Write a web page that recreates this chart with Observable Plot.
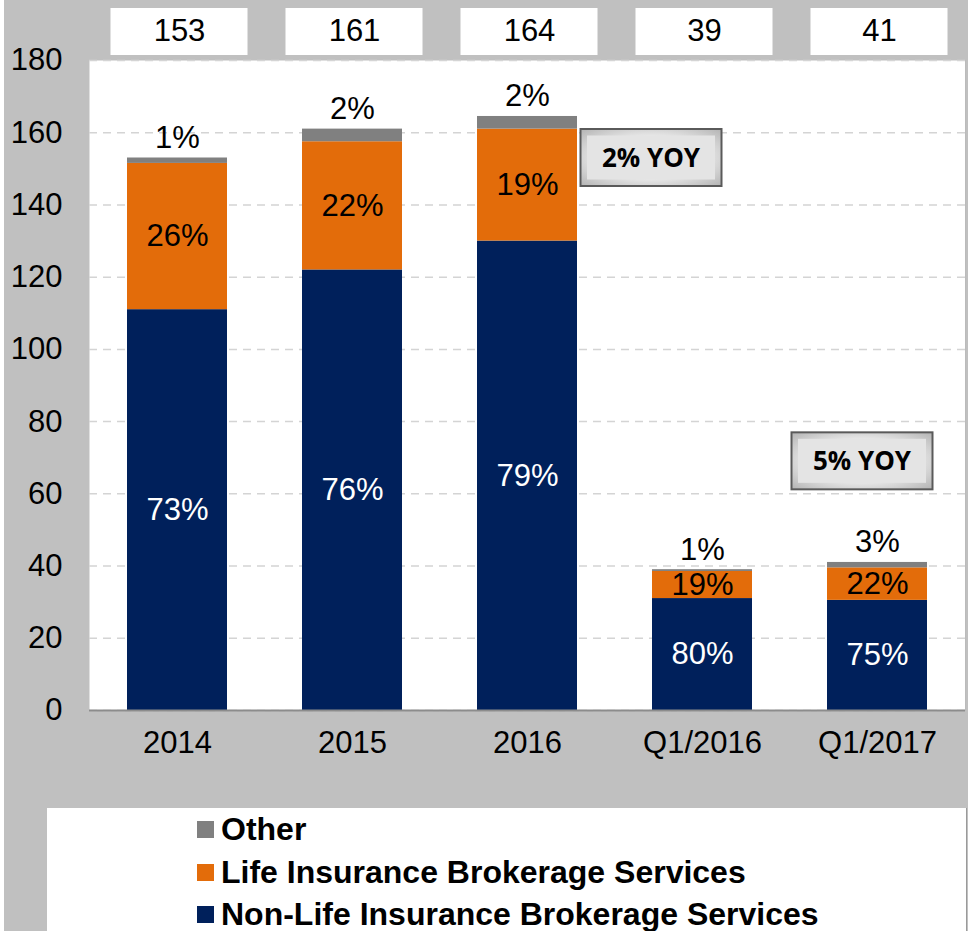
<!DOCTYPE html>
<html><head><meta charset="utf-8">
<script src="https://cdn.jsdelivr.net/npm/d3@7"></script>
<script src="https://cdn.jsdelivr.net/npm/@observablehq/plot@0.6"></script>
<style>
body{margin:0;background:#fff;}
#wrap{position:relative;width:968px;height:931px;background:#c0c0c0;overflow:hidden;font-family:Arial,"Liberation Sans",sans-serif;}
#strip{position:absolute;left:0;top:0;width:4px;height:931px;background:#fff;z-index:2;}
#chart{position:absolute;left:0;top:0;}
#legend{position:absolute;left:47px;top:808px;width:919px;height:123px;background:#fff;border-right:1px solid #9a9a9a;}
.item{position:absolute;left:150px;height:34px;display:flex;align-items:center;font-weight:bold;font-size:32px;color:#000;white-space:nowrap;}
.sw{width:17px;height:17px;margin-right:7px;flex:none;}
</style></head>
<body>
<div id="wrap"><div id="strip"></div><div id="chart"></div><div id="legend"></div></div>
<script>
const categories = ["2014", "2015", "2016", "Q1/2016", "Q1/2017"];
const seriesNames = ["Non-Life Insurance Brokerage Services", "Life Insurance Brokerage Services", "Other"];
const seriesColors = ["#00205b", "#e36c0a", "#808080"];
const nonLife = [111, 122, 130, 31, 30.5];
const life = [40.5, 35.5, 31, 7.5, 9];
const other = [1.5, 3.5, 3.5, 0.5, 1.5];
const totals = [153, 161, 164, 39, 41];
const nonLifePct = ["73%", "76%", "79%", "80%", "75%"];
const lifePct = ["26%", "22%", "19%", "19%", "22%"];
const otherPct = ["1%", "2%", "2%", "1%", "3%"];
const yTicks = [0, 20, 40, 60, 80, 100, 120, 140, 160, 180];
const yoyText = ["2% YOY", "5% YOY"];
const yoyCategory = ["Q1/2016", "Q1/2017"];
const yoyLevel = [153, 69];

const rows = [];
categories.forEach((c, i) => {
  rows.push({cat: c, series: seriesNames[0], value: nonLife[i], base: 0, label: nonLifePct[i]});
  rows.push({cat: c, series: seriesNames[1], value: life[i], base: nonLife[i], label: lifePct[i]});
  rows.push({cat: c, series: seriesNames[2], value: other[i], base: nonLife[i] + life[i], label: otherPct[i]});
});
const tops = categories.map((c, i) => ({cat: c, top: nonLife[i] + life[i] + other[i], label: otherPct[i], total: totals[i]}));

const plot = Plot.plot({
  width: 968, height: 780,
  marginLeft: 89, marginRight: 3, marginTop: 60, marginBottom: 70,
  style: {fontSize: "31px", fontFamily: "Arial, 'Liberation Sans', sans-serif", color: "#000", background: "transparent", overflow: "visible"},
  x: {domain: categories, paddingInner: 0.429, paddingOuter: 0.215, label: null},
  y: {domain: [0, 180], ticks: yTicks, label: null},
  color: {domain: seriesNames, range: seriesColors},
  marks: [
    Plot.frame({fill: "white", stroke: null}),
    Plot.gridY(yTicks, {stroke: "#d4d4d4", strokeOpacity: 1, strokeDasharray: "8,6", strokeWidth: 1.5}),
    Plot.frame({anchor: "right", stroke: "#bbbbbb"}),
    Plot.barY(rows, {x: "cat", y: "value", fill: "series", order: seriesNames}),
    Plot.ruleY([0], {stroke: "#8c8c8c", strokeWidth: 2}),
    Plot.axisY({ticks: yTicks, tickSize: 0, tickPadding: 27, fill: "#000"}),
    Plot.axisX({tickSize: 0, tickPadding: 20, fill: "#000"}),
    Plot.text(rows.filter(d => d.series === seriesNames[0]), {x: "cat", y: d => d.base + d.value / 2, text: "label", fill: "white"}),
    Plot.text(rows.filter(d => d.series === seriesNames[1]), {x: "cat", y: d => d.base + d.value / 2, text: "label", fill: "black"}),
    Plot.text(tops, {x: "cat", y: "top", text: "label", dy: -20, fill: "black"}),
    Plot.text(tops, {x: "cat", text: d => String(d.total), frameAnchor: "top", lineAnchor: "middle", dy: -29, dx: 2, fill: "black", className: "totals"})
  ]
});
document.getElementById("chart").appendChild(plot);

const xs = plot.scale("x"), ys = plot.scale("y");
const bw = xs.bandwidth;
const svg = d3.select(plot);

// White boxes behind the totals row
const totalsG = svg.select("g.totals");
const boxG = svg.insert("g", () => totalsG.node());
categories.forEach(c => {
  const cx = xs.apply(c) + bw / 2 + 2;
  boxG.append("rect").attr("x", cx - 68.5).attr("y", 8).attr("width", 137).attr("height", 47).attr("fill", "white");
});

// YOY callouts
const defs = svg.append("defs");
const grad = defs.append("radialGradient").attr("id", "bev").attr("cx", "50%").attr("cy", "50%").attr("r", "70%");
grad.append("stop").attr("offset", "55%").attr("stop-color", "#e6e6e6");
grad.append("stop").attr("offset", "100%").attr("stop-color", "#b4b4b4");
const yoyDx = [-51, -15];
yoyText.forEach((t, i) => {
  const cx = xs.apply(yoyCategory[i]) + bw / 2 + yoyDx[i];
  const cy = ys.apply(yoyLevel[i]);
  const g = svg.append("g");
  g.append("rect").attr("x", cx - 70.5).attr("y", cy - 28.5).attr("width", 141).attr("height", 57).attr("fill", "url(#bev)").attr("stroke", "#5a5a5a").attr("stroke-width", 2);
  g.append("rect").attr("x", cx - 64).attr("y", cy - 22).attr("width", 128).attr("height", 44).attr("fill", "#e4e4e4");
  g.append("text").attr("x", cx).attr("y", cy).attr("dy", "0.36em").attr("text-anchor", "middle")
    .attr("font-family", "'Open Sans', sans-serif").attr("font-weight", 700).attr("font-size", 26).attr("fill", "#000").text(t);
});

// Legend (top to bottom: Other, Life, Non-Life)
const legend = document.getElementById("legend");
const legendOrder = [2, 1, 0];
const legendCenters = [21, 64, 106];
legendOrder.forEach((k, j) => {
  const it = document.createElement("div");
  it.className = "item";
  it.style.top = (legendCenters[j] - 17) + "px";
  const sw = document.createElement("div");
  sw.className = "sw";
  sw.style.background = seriesColors[k];
  it.appendChild(sw);
  it.appendChild(document.createTextNode(seriesNames[k]));
  legend.appendChild(it);
});
</script>
</body></html>
